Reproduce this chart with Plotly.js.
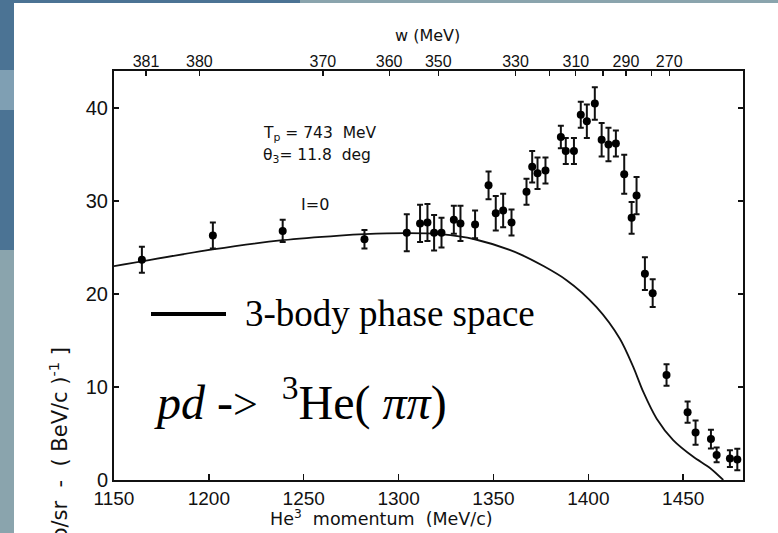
<!DOCTYPE html>
<html>
<head>
<meta charset="utf-8">
<script src="https://cdn.plot.ly/plotly-3.0.1.min.js"></script>
<style>html,body{margin:0;padding:0;background:#8aa4ad;}#chart{width:778px;height:533px;}</style>
</head>
<body>
<div id="chart"></div>
<script>
// Measured data points (He3 momentum in MeV/c, cross section, error)
const momentum = [1164.7, 1202.1, 1238.9, 1282.0, 1304.3, 1311.3, 1315.2, 1318.7, 1322.6, 1329.1, 1332.6, 1340.3, 1347.4, 1351.2, 1355.1, 1359.5, 1367.4, 1370.4, 1373.2, 1377.4, 1385.5, 1388.1, 1392.4, 1396.0, 1399.2, 1403.4, 1407.0, 1410.6, 1414.5, 1418.9, 1422.8, 1425.4, 1429.8, 1433.9, 1441.2, 1452.3, 1456.5, 1464.6, 1467.6, 1474.6, 1478.5];
const crossSection = [23.7, 26.3, 26.8, 25.9, 26.6, 27.6, 27.7, 26.6, 26.6, 28.0, 27.6, 27.5, 31.7, 28.7, 29.0, 27.7, 31.0, 33.7, 33.0, 33.3, 36.9, 35.4, 35.4, 39.3, 38.6, 40.5, 36.6, 36.1, 36.2, 32.9, 28.2, 30.6, 22.2, 20.1, 11.3, 7.3, 5.1, 4.4, 2.7, 2.3, 2.2];
const errors = [1.4, 1.4, 1.2, 1.0, 2.0, 2.0, 2.0, 1.9, 1.6, 1.5, 1.9, 1.5, 1.5, 1.85, 1.8, 1.4, 1.4, 1.7, 1.7, 1.4, 1.2, 1.4, 1.4, 1.4, 1.8, 1.75, 1.8, 1.8, 1.4, 2.1, 1.7, 2.0, 1.75, 1.5, 1.15, 1.15, 1.3, 1.0, 0.8, 0.9, 1.15];

// 3-body phase space curve
const psMomentum = [1150, 1202, 1238.9, 1268.9, 1282.1, 1304.3, 1322.2, 1340.1, 1363.9, 1388.5, 1404.3, 1416.6, 1423.6, 1428.9, 1436.0, 1444.7, 1455.3, 1464.1, 1471.1];
const psValue = [23.0, 24.8, 25.8, 26.3, 26.45, 26.55, 26.45, 25.9, 24.3, 21.5, 18.6, 15.2, 12.2, 9.5, 6.6, 4.3, 2.5, 1.3, 0];

// Bottom axis ticks
const xTicks = [1150, 1200, 1250, 1300, 1350, 1400, 1450];
const xTickText = ['1150', '1200', '1250', '1300', '1350', '1400', '1450'];
// Left axis ticks
const yTicks = [0, 10, 20, 30, 40];
const yTickText = ['0', '10', '20', '30', '40'];
// Top axis: w (MeV) labels placed at momentum positions
const wTickPos = [1166.9, 1195.0, 1260.1, 1295.0, 1320.9, 1361.6, 1379.6, 1393.4, 1407.7, 1419.8, 1433.1, 1442.6];
const wTickText = ['381', '380', '370', '360', '350', '330', '', '310', '', '290', '', '270'];

const L = 114, R = 35, T = 71, B = 53, W = 778, H = 533;
const pw = W - L - R, ph = H - T - B;
const px = x => (x - L) / pw;
const py = y => (H - B - y) / ph;

const sansFont = 'Liberation Sans, Arial, sans-serif';
const wideFont = 'DejaVu Sans, Liberation Sans, sans-serif';
const serifFont = 'Liberation Serif, Times New Roman, serif';

const traces = [
  {
    x: psMomentum, y: psValue, type: 'scatter', mode: 'lines',
    line: {color: '#111', width: 1.8, shape: 'spline', smoothing: 0.8},
    hoverinfo: 'skip', showlegend: false
  },
  {
    x: momentum, y: crossSection, type: 'scatter', mode: 'markers',
    marker: {color: '#000', size: 8},
    error_y: {type: 'data', array: errors, visible: true, color: '#111', thickness: 2, width: 3},
    showlegend: false
  },
  {
    x: [1150], y: [0], xaxis: 'x2', type: 'scatter', mode: 'markers',
    marker: {opacity: 0}, hoverinfo: 'skip', showlegend: false
  }
];

const layout = {
  width: W, height: H,
  margin: {l: L, r: R, t: T, b: B, pad: 0},
  paper_bgcolor: '#8aa4ad',
  plot_bgcolor: 'rgba(0,0,0,0)',
  showlegend: false,
  font: {family: sansFont, color: '#111'},
  xaxis: {
    range: [1150, 1481.5], tickvals: xTicks, ticktext: xTickText,
    ticks: 'inside', ticklen: 6, tickwidth: 1.5, tickcolor: '#111',
    showline: true, linecolor: '#111', linewidth: 2, mirror: true,
    showgrid: false, zeroline: false,
    tickfont: {size: 19, family: sansFont, color: '#111'}
  },
  xaxis2: {
    overlaying: 'x', side: 'top', anchor: 'y',
    range: [1150, 1481.5], tickvals: wTickPos, ticktext: wTickText,
    ticks: 'inside', ticklen: 5, tickwidth: 1.2, tickcolor: '#111',
    showline: false, showgrid: false, zeroline: false,
    tickfont: {size: 16, family: sansFont, color: '#111'}
  },
  yaxis: {
    range: [0, 44], tickvals: yTicks, ticktext: yTickText,
    ticks: 'inside', ticklen: 5, tickwidth: 1.5, tickcolor: '#111',
    showline: true, linecolor: '#111', linewidth: 2, mirror: 'ticks',
    showgrid: false, zeroline: false,
    tickfont: {size: 20, family: sansFont, color: '#111'}
  },
  shapes: [
    {type: 'rect', xref: 'paper', yref: 'paper', layer: 'below',
     x0: px(0), x1: px(14), y0: py(0), y1: py(250), fillcolor: '#4b7394', line: {width: 0}},
    {type: 'rect', xref: 'paper', yref: 'paper', layer: 'below',
     x0: px(0), x1: px(300), y0: py(0), y1: py(3), fillcolor: '#4b7394', line: {width: 0}},
    {type: 'rect', xref: 'paper', yref: 'paper', layer: 'below',
     x0: px(0), x1: px(14), y0: py(70), y1: py(110), fillcolor: '#7f9fb3', line: {width: 0}},
    {type: 'rect', xref: 'paper', yref: 'paper', layer: 'below',
     x0: px(14), x1: px(778), y0: py(3), y1: py(533), fillcolor: '#ffffff', line: {width: 0}},
    {type: 'line', xref: 'paper', yref: 'paper',
     x0: px(151), x1: px(226), y0: py(314), y1: py(314), line: {color: '#000', width: 4}}
  ],
  annotations: [
    {xref: 'paper', yref: 'paper', x: px(427), y: py(35), text: 'w (MeV)', showarrow: false,
     xanchor: 'center', yanchor: 'middle', font: {size: 16, family: wideFont, color: '#111'}},
    {xref: 'paper', yref: 'paper', x: px(268), y: py(518), text: 'He<sup>3</sup>  momentum  (MeV/c)', showarrow: false,
     xanchor: 'left', yanchor: 'middle', font: {size: 17.5, family: wideFont, color: '#111'}},
    {xref: 'paper', yref: 'paper', x: px(58), y: py(345), text: 'd<sup>2</sup>σ/dΩdp  [ μb/sr  -  ( BeV/c )<sup>-1</sup> ]', showarrow: false,
     textangle: -90, xanchor: 'center', yanchor: 'top', font: {size: 21, family: wideFont, color: '#111'}},
    {xref: 'paper', yref: 'paper', x: px(261), y: py(134), text: 'T<sub>p</sub> = 743  MeV', showarrow: false,
     xanchor: 'left', yanchor: 'middle', font: {size: 15.5, family: wideFont, color: '#111'}},
    {xref: 'paper', yref: 'paper', x: px(261), y: py(156), text: 'θ<sub>3</sub>= 11.8  deg', showarrow: false,
     xanchor: 'left', yanchor: 'middle', font: {size: 15.5, family: wideFont, color: '#111'}},
    {xref: 'paper', yref: 'paper', x: px(299), y: py(204), text: 'I=0', showarrow: false,
     xanchor: 'left', yanchor: 'middle', font: {size: 16, family: wideFont, color: '#111'}},
    {xref: 'paper', yref: 'paper', x: px(243), y: py(313), text: '3-body phase space', showarrow: false,
     xanchor: 'left', yanchor: 'middle', font: {size: 37, family: serifFont, color: '#000'}},
    {xref: 'paper', yref: 'paper', x: px(152), y: py(399), text: '<i>pd</i> -<span style="font-size:44px">&gt;</span>  <sup>3</sup>He( <i>ππ</i>)', showarrow: false,
     xanchor: 'left', yanchor: 'middle', font: {size: 48, family: serifFont, color: '#000'}}
  ]
};

Plotly.newPlot('chart', traces, layout, {displayModeBar: false, staticPlot: true});
</script>
</body>
</html>
